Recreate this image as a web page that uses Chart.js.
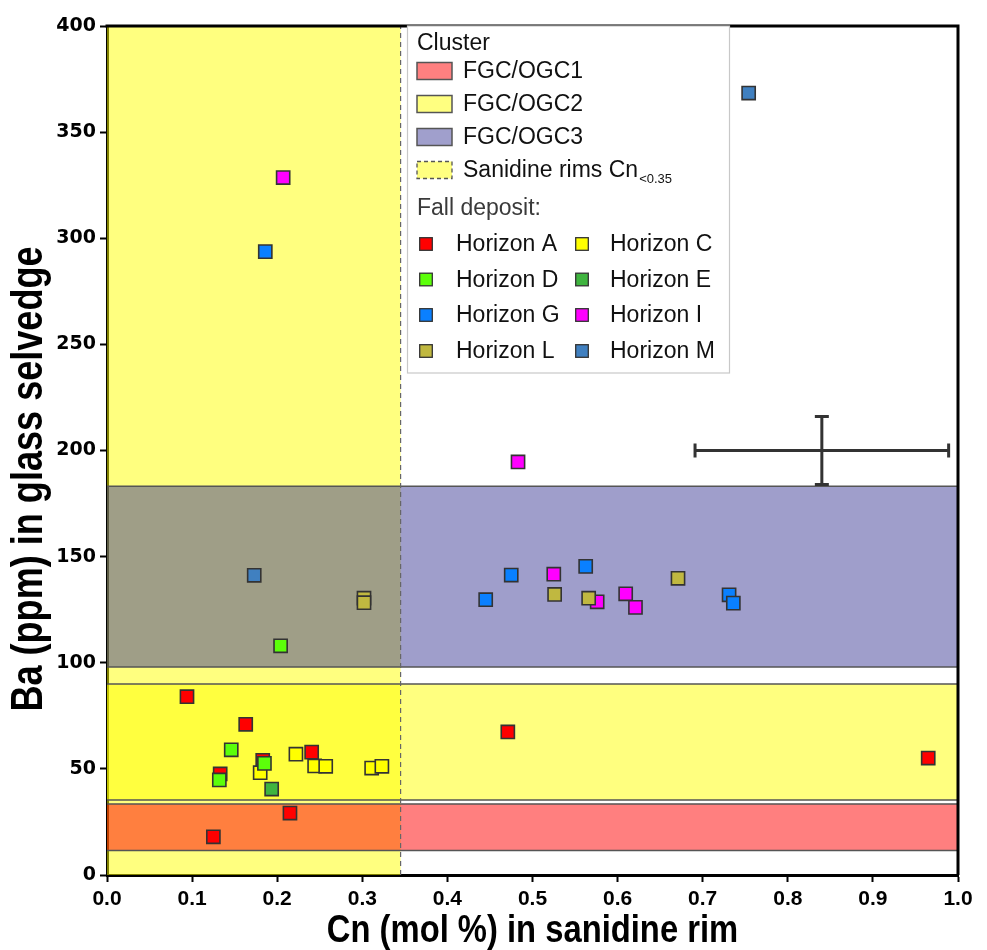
<!DOCTYPE html>
<html><head><meta charset="utf-8">
<script src="https://cdn.jsdelivr.net/npm/chart.js@4.4.1/dist/chart.umd.min.js"></script>
<style>html,body{margin:0;padding:0;background:#fff;}#wrap{width:987px;height:950px;}</style>
</head><body><div id="wrap"><canvas id="c" width="987" height="950"></canvas></div>
<script>
// ---------- DATA ----------
const xTickValues = [0.0, 0.1, 0.2, 0.3, 0.4, 0.5, 0.6, 0.7, 0.8, 0.9, 1.0];
const yTickValues = [0, 50, 100, 150, 200, 250, 300, 350, 400];
const xTitle = 'Cn (mol %) in sanidine rim';
const yTitle = 'Ba (ppm) in glass selvedge';

const clusterNames = ['FGC/OGC1', 'FGC/OGC2', 'FGC/OGC3'];
const clusterBaMin = [11.6, 35.3, 98.0];
const clusterBaMax = [33.5, 90.0, 183.2];
const sanidineLabel = 'Sanidine rims Cn';
const sanidineSub = '<0.35';
const sanidineCnLimit = 0.345;

const horizonNames = ['Horizon A', 'Horizon C', 'Horizon D', 'Horizon E', 'Horizon G', 'Horizon I', 'Horizon L', 'Horizon M'];
const horizonA_cn = [0.094, 0.163, 0.2405, 0.183, 0.133, 0.215, 0.125, 0.471, 0.965];
const horizonA_ba = [84.0, 71.0, 57.9, 54.0, 47.6, 29.2, 18.0, 67.4, 55.1];
const horizonC_cn = [0.222, 0.244, 0.257, 0.311, 0.323, 0.180];
const horizonC_ba = [56.9, 51.4, 51.2, 50.4, 51.2, 48.2];
const horizonD_cn = [0.204, 0.146, 0.185, 0.132];
const horizonD_ba = [108.0, 59.0, 52.6, 44.8];
const horizonE_cn = [0.1935];
const horizonE_ba = [40.5];
const horizonG_cn = [0.186, 0.475, 0.5625, 0.445, 0.731, 0.736];
const horizonG_ba = [293.7, 141.3, 145.4, 129.7, 132.0, 128.1];
const horizonI_cn = [0.207, 0.483, 0.525, 0.576, 0.6095, 0.621];
const horizonI_ba = [328.6, 194.6, 141.7, 128.7, 132.5, 126.1];
const horizonL_cn = [0.302, 0.302, 0.526, 0.566, 0.671];
const horizonL_ba = [130.4, 128.3, 132.2, 130.4, 139.8];
const horizonM_cn = [0.173, 0.754];
const horizonM_ba = [141.2, 368.4];

const errorBarCn = [0.84];
const errorBarBa = [200];
const errorBarCnErr = [0.149];
const errorBarBaErr = [16];

// ---------- STYLE ----------
const SANS = '"Liberation Sans", Arial, sans-serif';
const horizonColors = ['#ff0000', '#ffff00', '#5cff0a', '#3fb43f', '#0a80ff', '#ff00ff', '#c0b840', '#4080c0'];
const clusterFill = ['rgba(255,0,0,0.5)', 'rgba(255,255,0,0.5)', 'rgba(50,48,145,0.47)'];
const clusterSwatch = ['#ff8080', '#ffff80', '#a09fcc'];
const sanidineFill = 'rgba(255,255,0,0.5)';

const seriesCn = [horizonA_cn, horizonC_cn, horizonD_cn, horizonE_cn, horizonG_cn, horizonI_cn, horizonL_cn, horizonM_cn];
const seriesBa = [horizonA_ba, horizonC_ba, horizonD_ba, horizonE_ba, horizonG_ba, horizonI_ba, horizonL_ba, horizonM_ba];

const datasets = horizonNames.map((name, i) => ({
  label: name,
  data: seriesCn[i].map((v, j) => ({x: v, y: seriesBa[i][j]})),
  pointStyle: 'rect',
  pointRadius: 9.3,
  pointHoverRadius: 9.3,
  backgroundColor: horizonColors[i],
  borderColor: '#333',
  pointBorderWidth: 1.6,
  showLine: false,
  order: horizonNames.length - i
}));

const bandsPlugin = {
  id: 'bands',
  beforeDatasetsDraw(chart) {
    const {ctx, chartArea: ca, scales: {x, y}} = chart;
    ctx.save();
    ctx.beginPath(); ctx.rect(ca.left, ca.top, ca.width, ca.height); ctx.clip();
    const x0 = x.getPixelForValue(0), x1 = x.getPixelForValue(1), xs = x.getPixelForValue(sanidineCnLimit);
    const yTop = y.getPixelForValue(400), yBot = y.getPixelForValue(0);
    ctx.fillStyle = sanidineFill;
    ctx.fillRect(x0, yTop, xs - x0, yBot - yTop);
    clusterNames.forEach((n, i) => {
      const t = y.getPixelForValue(clusterBaMax[i]), b = y.getPixelForValue(clusterBaMin[i]);
      ctx.fillStyle = clusterFill[i];
      ctx.fillRect(x0, t, x1 - x0, b - t);
    });
    ctx.strokeStyle = '#555'; ctx.lineWidth = 1.5;
    clusterNames.forEach((n, i) => {
      [clusterBaMax[i], clusterBaMin[i]].forEach(v => {
        const p = y.getPixelForValue(v);
        ctx.beginPath(); ctx.moveTo(x0, p); ctx.lineTo(x1, p); ctx.stroke();
      });
    });
    ctx.setLineDash([5, 4]); ctx.strokeStyle = '#666'; ctx.lineWidth = 1.2;
    ctx.beginPath(); ctx.moveTo(xs, yBot); ctx.lineTo(xs, yTop); ctx.stroke();
    ctx.restore();
  }
};

const errorPlugin = {
  id: 'errbar',
  afterDatasetsDraw(chart) {
    const {ctx, scales: {x, y}} = chart;
    ctx.save();
    ctx.strokeStyle = '#333'; ctx.lineWidth = 3;
    errorBarCn.forEach((cx, i) => {
      const px = x.getPixelForValue(cx), py = y.getPixelForValue(errorBarBa[i]);
      const l = x.getPixelForValue(cx - errorBarCnErr[i]), r = x.getPixelForValue(cx + errorBarCnErr[i]);
      const t = y.getPixelForValue(errorBarBa[i] + errorBarBaErr[i]), b = y.getPixelForValue(errorBarBa[i] - errorBarBaErr[i]);
      const c = 7;
      ctx.beginPath();
      ctx.moveTo(l, py); ctx.lineTo(r, py);
      ctx.moveTo(l, py - c); ctx.lineTo(l, py + c);
      ctx.moveTo(r, py - c); ctx.lineTo(r, py + c);
      ctx.moveTo(px, t); ctx.lineTo(px, b);
      ctx.moveTo(px - c, t); ctx.lineTo(px + c, t);
      ctx.moveTo(px - c, b); ctx.lineTo(px + c, b);
      ctx.stroke();
    });
    ctx.restore();
  }
};

const framePlugin = {
  id: 'frame',
  afterDraw(chart) {
    const {ctx, chartArea: ca} = chart;
    ctx.save();
    ctx.strokeStyle = '#000'; ctx.lineWidth = 3;
    ctx.beginPath();
    ctx.moveTo(ca.left - 1.5, ca.top); ctx.lineTo(ca.right, ca.top); ctx.lineTo(ca.right, ca.bottom);
    ctx.stroke();
    ctx.restore();

    // axis titles (condensed bold)
    ctx.save();
    ctx.fillStyle = '#000'; ctx.textAlign = 'center'; ctx.textBaseline = 'middle';
    ctx.font = 'bold 39px ' + SANS;
    ctx.translate((ca.left + ca.right) / 2, 931);
    ctx.scale(0.84, 1);
    ctx.fillText(xTitle, 0, 0);
    ctx.restore();
    ctx.save();
    ctx.fillStyle = '#000'; ctx.textAlign = 'center'; ctx.textBaseline = 'middle';
    ctx.font = 'bold 44px ' + SANS;
    ctx.translate(30, 479);
    ctx.rotate(-Math.PI / 2);
    ctx.scale(0.82, 1);
    ctx.fillText(yTitle, 0, 0);
    ctx.restore();

    // legend
    const L = 407, T = 26, W = 322, H = 347;
    ctx.save();
    ctx.fillStyle = '#fff'; ctx.fillRect(L, T, W, H);
    ctx.strokeStyle = '#c8c8c8'; ctx.lineWidth = 1.2; ctx.strokeRect(L + 0.5, T, W, H);
    ctx.textBaseline = 'middle'; ctx.textAlign = 'left';
    ctx.fillStyle = '#111';
    ctx.font = '23px ' + SANS;
    ctx.fillText('Cluster', 417, 44);
    const rowY = [71, 104, 137];
    clusterNames.forEach((n, i) => {
      ctx.fillStyle = clusterSwatch[i];
      ctx.fillRect(417, rowY[i] - 8.5, 35, 17);
      ctx.strokeStyle = '#555'; ctx.lineWidth = 1.5; ctx.setLineDash([]);
      ctx.strokeRect(417, rowY[i] - 8.5, 35, 17);
      ctx.fillStyle = '#111';
      ctx.fillText(n, 463, rowY[i] + 1);
    });
    const sy = 170;
    ctx.fillStyle = '#ffff80'; ctx.fillRect(417, sy - 8.5, 35, 17);
    ctx.setLineDash([4, 3]); ctx.strokeStyle = '#555'; ctx.lineWidth = 1.3;
    ctx.strokeRect(417, sy - 8.5, 35, 17); ctx.setLineDash([]);
    ctx.fillStyle = '#111';
    ctx.fillText(sanidineLabel, 463, sy + 1);
    const sw = ctx.measureText(sanidineLabel).width;
    ctx.font = '13px ' + SANS;
    ctx.fillText(sanidineSub, 463 + sw + 1, sy + 9);
    ctx.font = '23px ' + SANS;
    ctx.fillStyle = '#3a3a3a';
    ctx.fillText('Fall deposit:', 417, 209);
    const hy = [244, 279.5, 315, 351];
    horizonNames.forEach((n, i) => {
      const r = Math.floor(i / 2), c = i % 2;
      const mx = c === 0 ? 426 : 582, tx = c === 0 ? 456 : 610;
      ctx.fillStyle = horizonColors[i];
      ctx.fillRect(mx - 6.3, hy[r] - 6.3, 12.6, 12.6);
      ctx.strokeStyle = '#333'; ctx.lineWidth = 1.3;
      ctx.strokeRect(mx - 6.3, hy[r] - 6.3, 12.6, 12.6);
      ctx.fillStyle = '#111';
      ctx.fillText(n, tx, hy[r] + 1);
    });
    ctx.restore();
  }
};

new Chart(document.getElementById('c'), {
  type: 'scatter',
  data: {datasets},
  plugins: [bandsPlugin, errorPlugin, framePlugin],
  options: {
    responsive: false,
    animation: false,
    devicePixelRatio: 1,
    events: [],
    layout: {padding: {top: 26, right: 29, left: 0, bottom: 0}},
    plugins: {legend: {display: false}, tooltip: {enabled: false}},
    scales: {
      x: {
        type: 'linear', min: 0, max: 1,
        afterBuildTicks: s => { s.ticks = xTickValues.map(v => ({value: v})); },
        afterFit: s => { s.height = 75; },
        ticks: {callback: v => Number(v).toFixed(1), color: '#000', padding: 7,
          font: {family: SANS, weight: 'bold', size: 21, lineHeight: 1}, maxRotation: 0},
        grid: {drawOnChartArea: false, drawTicks: true, tickLength: 7, tickColor: '#000', tickWidth: 2},
        border: {display: true, color: '#000', width: 3},
        title: {display: false}
      },
      y: {
        type: 'linear', min: 0, max: 400,
        afterBuildTicks: s => { s.ticks = yTickValues.map(v => ({value: v})); },
        afterFit: s => { s.width = 107; },
        ticks: {color: '#000', padding: 4,
          font: {family: '"DejaVu Sans", "Liberation Sans", sans-serif', weight: 'bold', size: 19}},
        grid: {drawOnChartArea: false, drawTicks: true, tickLength: 7, tickColor: '#000', tickWidth: 2},
        border: {display: true, color: '#000', width: 3},
        title: {display: false}
      }
    }
  }
});
</script></body></html>
